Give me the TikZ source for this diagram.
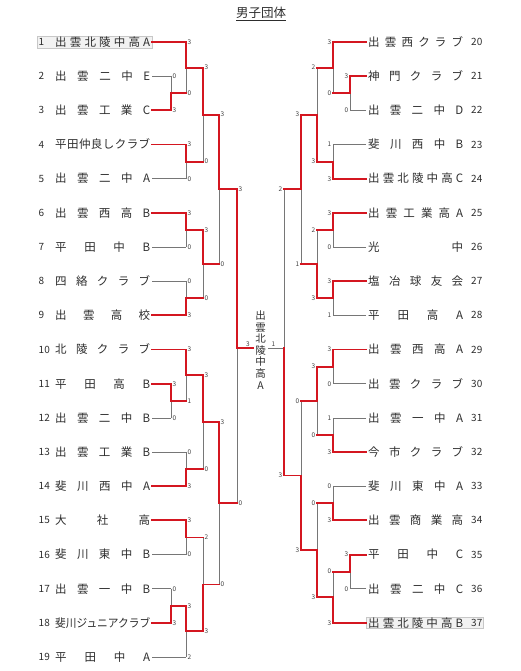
\documentclass[tikz,border=0pt]{standalone}
\usepackage{graphicx}
\usepackage{fontspec}
\setmainfont{Noto Sans CJK JP}
\usetikzlibrary{calc}
\pgfdeclarelayer{boxes}
\pgfdeclarelayer{bg}
\pgfsetlayers{boxes,bg,main}
\definecolor{bred}{RGB}{212,22,32}
\definecolor{bgray}{RGB}{118,118,118}
\definecolor{txt}{RGB}{45,45,45}
\tikzset{
  win/.style={draw=bred, line width=1.9pt, line cap=rect},
  lose/.style={draw=bgray, line width=0.7pt},
  nm/.style={font=\fontsize{11.5}{12}\selectfont, text=txt, inner xsep=2pt, inner ysep=0pt, text height=10pt, text depth=1.4pt},
  num/.style={font=\fontsize{10}{10}\selectfont, text=txt, inner sep=0pt, text height=8pt, text depth=0.8pt},
  sc/.style={font=\fontsize{6.5}{6.5}\selectfont, text=txt!90, inner xsep=1.5pt, inner ysep=0pt, text height=4.7pt, text depth=0pt},
  selbox/.style={draw=black!22, fill=black!5, line width=0.4pt}
}
\newcommand\seg[3]{\if w#1\draw[win] (#2) -- (#3);\else\begin{pgfonlayer}{bg}\draw[lose] (#2) -- (#3);\end{pgfonlayer}\fi}
\newcommand\mstubL[4]{\seg{#3}{#1}{#1 -| #2}\node[sc,anchor=west] (s#1) at (#1 -| #2) {#4};}
\newcommand\mstubR[4]{\seg{#3}{#1}{#1 -| #2}\node[sc,anchor=east] (s#1) at (#1 -| #2) {#4};}
\newcommand\mjoin[5]{\coordinate (#4) at ($(#1 -| #3)!0.5!(#2 -| #3)$);
  \ifnum#5=1 \seg{w}{#1 -| #3}{#4}\seg{g}{#4}{#2 -| #3}\else\seg{g}{#1 -| #3}{#4}\seg{w}{#4}{#2 -| #3}\fi}
\newcommand\teamL[2]{%
  \node[num, anchor=west] (N#1) at (38.5,{42+(#1-1)*34.17}) {#1};
  \node[nm, anchor=west] (T#1) at (53,{42+(#1-1)*34.17}) {\hbox to 95pt{#2}};
  \coordinate (a#1) at (T#1.east);}
\newcommand\teamR[2]{%
  \node[nm, anchor=west] (T#1) at (366,{42+(#1-20)*34.17}) {\hbox to 95pt{#2}};
  \node[num, anchor=west] (N#1) at (471,{42+(#1-20)*34.17}) {#1};
  \coordinate (a#1) at (T#1.west);}
\begin{document}
\begin{tikzpicture}[x=1pt,y=-1pt]
\useasboundingbox (0,0) rectangle (520,671);
% columns
\coordinate (c1) at (171,0); \coordinate (c2) at (186,0); \coordinate (c3) at (203,0);
\coordinate (c4) at (219,0); \coordinate (c5) at (237,0); \coordinate (cF) at (253,0);
\coordinate (d1) at (350,0); \coordinate (d2) at (333,0); \coordinate (d3) at (317,0);
\coordinate (d4) at (301,0); \coordinate (d5) at (284,0); \coordinate (dF) at (268,0);
% title
\node[font=\fontsize{12.5}{13}\selectfont, text=txt, inner sep=0pt] (title) at (261,14) {\underline{男子団体}};
% selected cells
\begin{pgfonlayer}{boxes}
\draw[selbox] (37,36) rectangle (152,48);
\draw[selbox] (366,617) rectangle (483,628);
\end{pgfonlayer}
% left teams
\teamL{1}{出\hfil 雲\hfil 北\hfil 陵\hfil 中\hfil 高\hfil A}
\teamL{2}{出\hfil 雲\hfil 二\hfil 中\hfil E}
\teamL{3}{出\hfil 雲\hfil 工\hfil 業\hfil C}
\teamL{4}{平\hfil 田\hfil 仲\hfil 良\hfil し\hfil ク\hfil ラ\hfil ブ}
\teamL{5}{出\hfil 雲\hfil 二\hfil 中\hfil A}
\teamL{6}{出\hfil 雲\hfil 西\hfil 高\hfil B}
\teamL{7}{平\hfil 田\hfil 中\hfil B}
\teamL{8}{四\hfil 絡\hfil ク\hfil ラ\hfil ブ}
\teamL{9}{出\hfil 雲\hfil 高\hfil 校}
\teamL{10}{北\hfil 陵\hfil ク\hfil ラ\hfil ブ}
\teamL{11}{平\hfil 田\hfil 高\hfil B}
\teamL{12}{出\hfil 雲\hfil 二\hfil 中\hfil B}
\teamL{13}{出\hfil 雲\hfil 工\hfil 業\hfil B}
\teamL{14}{斐\hfil 川\hfil 西\hfil 中\hfil A}
\teamL{15}{大\hfil 社\hfil 高}
\teamL{16}{斐\hfil 川\hfil 東\hfil 中\hfil B}
\teamL{17}{出\hfil 雲\hfil 一\hfil 中\hfil B}
\teamL{18}{\resizebox{95pt}{\height}{斐川ジュニアクラブ}}
\teamL{19}{平\hfil 田\hfil 中\hfil A}
% right teams
\teamR{20}{出\hfil 雲\hfil 西\hfil ク\hfil ラ\hfil ブ}
\teamR{21}{神\hfil 門\hfil ク\hfil ラ\hfil ブ}
\teamR{22}{出\hfil 雲\hfil 二\hfil 中\hfil D}
\teamR{23}{斐\hfil 川\hfil 西\hfil 中\hfil B}
\teamR{24}{出\hfil 雲\hfil 北\hfil 陵\hfil 中\hfil 高\hfil C}
\teamR{25}{出\hfil 雲\hfil 工\hfil 業\hfil 高\hfil A}
\teamR{26}{光\hfil 中}
\teamR{27}{塩\hfil 冶\hfil 球\hfil 友\hfil 会}
\teamR{28}{平\hfil 田\hfil 高\hfil A}
\teamR{29}{出\hfil 雲\hfil 西\hfil 高\hfil A}
\teamR{30}{出\hfil 雲\hfil ク\hfil ラ\hfil ブ}
\teamR{31}{出\hfil 雲\hfil 一\hfil 中\hfil A}
\teamR{32}{今\hfil 市\hfil ク\hfil ラ\hfil ブ}
\teamR{33}{斐\hfil 川\hfil 東\hfil 中\hfil A}
\teamR{34}{出\hfil 雲\hfil 商\hfil 業\hfil 高}
\teamR{35}{平\hfil 田\hfil 中\hfil C}
\teamR{36}{出\hfil 雲\hfil 二\hfil 中\hfil C}
\teamR{37}{出\hfil 雲\hfil 北\hfil 陵\hfil 中\hfil 高\hfil B}
% ---- left bracket
\mstubL{a1}{c2}{w}{3}
\mstubL{a2}{c1}{g}{0}
\mstubL{a3}{c1}{w}{3}
\mjoin{a2}{a3}{c1}{m23}{2}
\mstubL{m23}{c2}{w}{0}
\mjoin{a1}{m23}{c2}{mA}{1}
\mstubL{mA}{c3}{w}{3}
\mstubL{a4}{c2}{w}{3}
\mstubL{a5}{c2}{g}{0}
\mjoin{a4}{a5}{c2}{mB}{1}
\mstubL{mB}{c3}{w}{0}
\mjoin{mA}{mB}{c3}{mAB}{1}
\mstubL{mAB}{c4}{w}{3}
\mstubL{a6}{c2}{w}{3}
\mstubL{a7}{c2}{g}{0}
\mjoin{a6}{a7}{c2}{mC}{1}
\mstubL{mC}{c3}{w}{3}
\mstubL{a8}{c2}{g}{0}
\mstubL{a9}{c2}{w}{3}
\mjoin{a8}{a9}{c2}{mD}{2}
\mstubL{mD}{c3}{w}{0}
\mjoin{mC}{mD}{c3}{mCD}{1}
\mstubL{mCD}{c4}{w}{0}
\mjoin{mAB}{mCD}{c4}{mLT}{1}
\mstubL{mLT}{c5}{w}{3}
\mstubL{a10}{c2}{w}{3}
\mstubL{a11}{c1}{w}{3}
\mstubL{a12}{c1}{g}{0}
\mjoin{a11}{a12}{c1}{m1112}{1}
\mstubL{m1112}{c2}{w}{1}
\mjoin{a10}{m1112}{c2}{mE}{1}
\mstubL{mE}{c3}{w}{3}
\mstubL{a13}{c2}{g}{0}
\mstubL{a14}{c2}{w}{3}
\mjoin{a13}{a14}{c2}{mF}{2}
\mstubL{mF}{c3}{w}{0}
\mjoin{mE}{mF}{c3}{mEF}{1}
\mstubL{mEF}{c4}{w}{3}
\mstubL{a15}{c2}{w}{3}
\mstubL{a16}{c2}{g}{0}
\mjoin{a15}{a16}{c2}{mG}{1}
\mstubL{mG}{c3}{w}{2}
\mstubL{a17}{c1}{g}{0}
\mstubL{a18}{c1}{w}{3}
\mjoin{a17}{a18}{c1}{m1718}{2}
\mstubL{m1718}{c2}{w}{3}
\mstubL{a19}{c2}{g}{2}
\mjoin{m1718}{a19}{c2}{mH}{1}
\mstubL{mH}{c3}{w}{3}
\mjoin{mG}{mH}{c3}{mGH}{2}
\mstubL{mGH}{c4}{w}{0}
\mjoin{mEF}{mGH}{c4}{mLB}{1}
\mstubL{mLB}{c5}{w}{0}
% ---- right bracket
\mstubR{a20}{d2}{w}{3}
\mstubR{a21}{d1}{w}{3}
\mstubR{a22}{d1}{g}{0}
\mjoin{a21}{a22}{d1}{n2122}{1}
\mstubR{n2122}{d2}{w}{0}
\mjoin{a20}{n2122}{d2}{nA}{1}
\mstubR{nA}{d3}{w}{2}
\mstubR{a23}{d2}{g}{1}
\mstubR{a24}{d2}{w}{3}
\mjoin{a23}{a24}{d2}{nB}{2}
\mstubR{nB}{d3}{w}{3}
\mjoin{nA}{nB}{d3}{nAB}{2}
\mstubR{nAB}{d4}{w}{3}
\mstubR{a25}{d2}{w}{3}
\mstubR{a26}{d2}{g}{0}
\mjoin{a25}{a26}{d2}{nC}{1}
\mstubR{nC}{d3}{w}{2}
\mstubR{a27}{d2}{w}{3}
\mstubR{a28}{d2}{g}{1}
\mjoin{a27}{a28}{d2}{nD}{1}
\mstubR{nD}{d3}{w}{3}
\mjoin{nC}{nD}{d3}{nCD}{2}
\mstubR{nCD}{d4}{w}{1}
\mjoin{nAB}{nCD}{d4}{nRT}{1}
\mstubR{nRT}{d5}{w}{2}
\mstubR{a29}{d2}{w}{3}
\mstubR{a30}{d2}{g}{0}
\mjoin{a29}{a30}{d2}{nE}{1}
\mstubR{nE}{d3}{w}{3}
\mstubR{a31}{d2}{g}{1}
\mstubR{a32}{d2}{w}{3}
\mjoin{a31}{a32}{d2}{nF}{2}
\mstubR{nF}{d3}{w}{0}
\mjoin{nE}{nF}{d3}{nEF}{1}
\mstubR{nEF}{d4}{w}{0}
\mstubR{a33}{d2}{g}{0}
\mstubR{a34}{d2}{w}{3}
\mjoin{a33}{a34}{d2}{nG}{2}
\mstubR{nG}{d3}{w}{0}
\mstubR{a35}{d1}{w}{3}
\mstubR{a36}{d1}{g}{0}
\mjoin{a35}{a36}{d1}{n3536}{1}
\mstubR{n3536}{d2}{w}{0}
\mstubR{a37}{d2}{w}{3}
\mjoin{n3536}{a37}{d2}{nH}{2}
\mstubR{nH}{d3}{w}{3}
\mjoin{nG}{nH}{d3}{nGH}{2}
\mstubR{nGH}{d4}{w}{3}
\mjoin{nEF}{nGH}{d4}{nRB}{2}
\mstubR{nRB}{d5}{w}{3}
% ---- final
\coordinate (mL) at (237,348);
\coordinate (nR) at (284,348);
\seg{w}{mLT -| c5}{mL}
\seg{g}{mL}{mLB -| c5}
\seg{g}{nRT -| d5}{nR}
\seg{w}{nR}{nRB -| d5}
\seg{w}{mL}{mL -| cF}
\seg{g}{nR}{nR -| dF}
\node[sc, anchor=south east, inner sep=1pt] (sfL) at ($(mL -| cF)+(-2,-0.5)$) {3};
\node[sc, anchor=south west, inner sep=1pt] (sfR) at ($(nR -| dF)+(2.5,-0.5)$) {1};
\node[font=\fontsize{10.5}{11.6}\selectfont, text=txt, align=center, inner sep=0pt] (champ) at (260.5,350) {出\\雲\\北\\陵\\中\\高\\A};
\end{tikzpicture}
\end{document}
